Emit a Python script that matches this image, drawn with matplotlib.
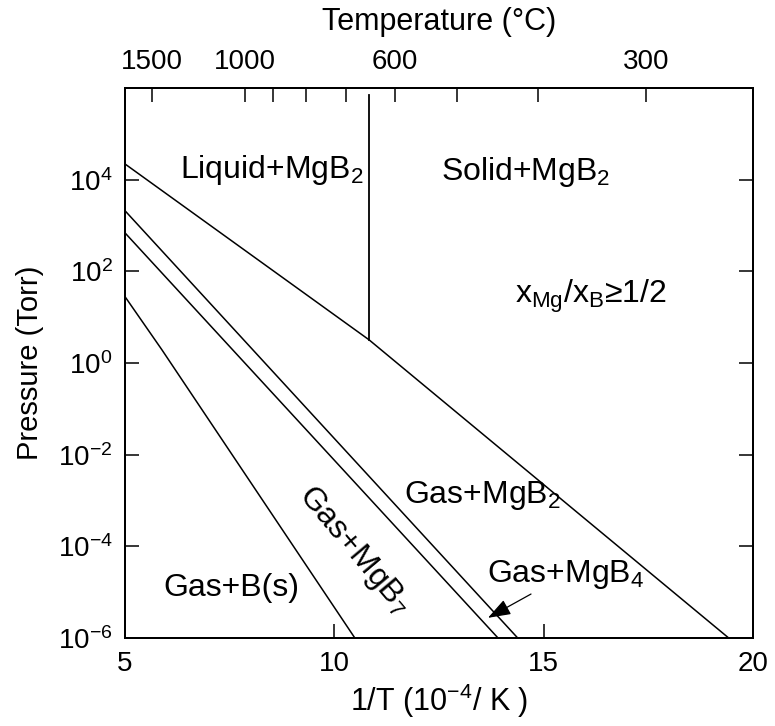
import matplotlib
matplotlib.use("Agg")
import matplotlib.pyplot as plt

plt.rcParams['font.family'] = ['Liberation Sans', 'DejaVu Sans']
plt.rcParams['mathtext.fontset'] = 'custom'
plt.rcParams['mathtext.rm'] = 'Liberation Sans'
plt.rcParams['mathtext.it'] = 'Liberation Sans:italic'
plt.rcParams['mathtext.bf'] = 'Liberation Sans:bold'

# boundary lines, x = 1/T (1e-4/K), y = pressure (Torr)
mg_x = [5.0, 10.83, 19.42]                       # Mg vapour / MgB2 line
mg_p = [2.2e4, 3.2e0, 1e-6]
mgb4_x = [5.0, 14.38]                            # MgB2 / MgB4
mgb4_p = [2.1e3, 1e-6]
mgb7_x = [5.0, 13.91]                            # MgB4 / MgB7
mgb7_p = [6.9e2, 1e-6]
b_x = [5.0, 5.88, 10.49]                         # MgB7 / B
b_p = [2.8e1, 1.95e0, 1e-6]
melt_x = [10.83, 10.83]                          # Mg melting point
melt_p = [3.2e0, 7e5]

temp_ticks = [1500, 1000, 900, 800, 700, 600, 500, 400, 300]
temp_labels = ['1500', '1000', '', '', '', '600', '', '', '300']

fig = plt.figure(figsize=(7.75, 7.26), dpi=100)
ax = fig.add_axes([0.1613, 0.1212, 0.8103, 0.7576])

lw = 1.1
ax.plot(mg_x, mg_p, 'k-', lw=lw)
ax.plot(mgb4_x, mgb4_p, 'k-', lw=lw)
ax.plot(mgb7_x, mgb7_p, 'k-', lw=lw)
ax.plot(b_x, b_p, 'k-', lw=lw)
ax.plot(melt_x, melt_p, 'k-', lw=1.3)

ax.set_yscale('log')
ax.set_xlim(5, 20)
ax.set_ylim(1e-6, 1e6)
ax.set_xticks([5, 10, 15, 20])
ax.set_yticks([1e-6, 1e-4, 1e-2, 1e0, 1e2, 1e4])
ax.minorticks_off()
ax.tick_params(direction='in', length=10, width=1.1, labelsize=20, pad=9,
               right=True)
for s in ax.spines.values():
    s.set_linewidth(1.4)

ax.set_xlabel(r'1/T (10$^{\mathregular{-4}}$/ K )', fontsize=22, labelpad=4)
ax.set_ylabel('Pressure (Torr)', fontsize=21, labelpad=10)

top = ax.twiny()
top.set_xlim(ax.get_xlim())
top.set_xticks([1e4 / (t + 273.15) for t in temp_ticks])
top.set_xticklabels(temp_labels)
top.tick_params(direction='in', length=10, width=1.1, labelsize=20, pad=9)
top.set_xlabel('Temperature (°C)', fontsize=22, labelpad=14)
for s in top.spines.values():
    s.set_linewidth(1.4)

fs = 23
ax.text(8.50, 10**4.22, r'Liquid+MgB$_2$', fontsize=fs, ha='center', va='center')
ax.text(14.58, 10**4.17, r'Solid+MgB$_2$', fontsize=fs, ha='center', va='center')
ax.text(16.13, 10**1.45, r'x$_{\mathregular{Mg}}$/x$_{\mathregular{B}}$≥1/2', fontsize=fs,
        ha='center', va='center')
ax.text(13.53, 10**-2.88, r'Gas+MgB$_2$', fontsize=fs, ha='center', va='center')
ax.text(10.47, 10**-4.08, r'Gas+MgB$_7$', fontsize=fs, ha='center', va='center',
        rotation=-50, rotation_mode='anchor')
ax.text(7.54, 10**-4.91, 'Gas+B(s)', fontsize=fs, ha='center', va='center')
ax.annotate(r'Gas+MgB$_4$', xy=(13.67, 10**-5.56), xytext=(15.53, 10**-4.62),
            fontsize=fs, ha='center', va='center',
            arrowprops=dict(arrowstyle='-|>,head_length=0.7,head_width=0.25',
                            color='k', lw=0.9, mutation_scale=20,
                            shrinkA=0, shrinkB=0))

fig.savefig('out.png', dpi=100)
